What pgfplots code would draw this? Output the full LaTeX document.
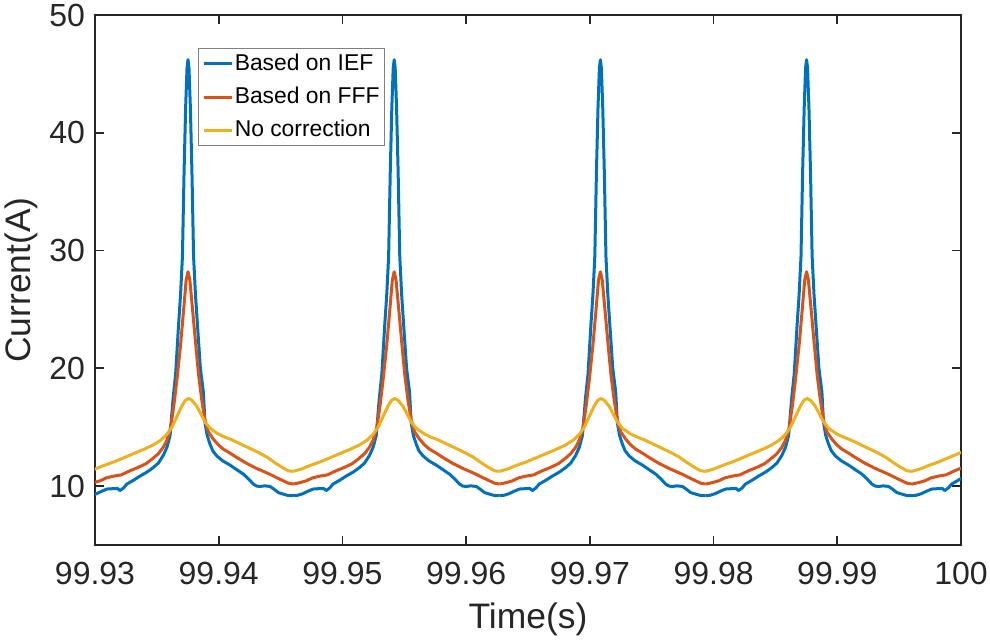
\documentclass[border=0pt]{standalone}
\usepackage{fontspec}
\setmainfont{Liberation Sans}
\usepackage{pgfplots}
\usepackage{pgfplotstable}
\pgfplotsset{compat=1.18}
\definecolor{mblue}{rgb}{0,0.447,0.741}
\definecolor{morange}{rgb}{0.85,0.325,0.098}
\definecolor{myellow}{rgb}{0.929,0.694,0.125}
\definecolor{axgray}{rgb}{0.15,0.15,0.15}

% one period of each current, p = time from the peak in ms
\pgfplotstableread{
p I
-8.16 9.18
-7.8 9.22
-7.4 9.35
-7.0 9.55
-6.55 9.75
-6.1 9.78
-5.7 9.80
-5.5 9.62
-5.2 9.85
-4.95 10.17
-4.4 10.50
-3.85 10.87
-3.3 11.20
-2.8 11.58
-2.4 11.95
-2.0 12.60
-1.7 13.30
-1.45 14.30
-1.2 17.50
-1.0 19.50
-0.77 23.60
-0.6 26.30
-0.45 29.50
-0.32 36.60
-0.19 42.20
-0.08 45.50
0 46.20
0.08 45.50
0.19 42.20
0.32 36.60
0.45 29.50
0.6 26.30
0.77 23.60
1.0 20.00
1.24 18.00
1.37 15.40
1.55 14.30
1.78 13.56
2.0 13.00
2.32 12.57
2.8 12.15
3.4 11.78
4.0 11.35
4.47 11.02
4.9 10.60
5.28 10.17
5.55 10.00
5.82 9.97
6.2 10.02
6.63 9.97
7.0 9.70
7.3 9.45
7.7 9.32
8.1 9.20
8.51 9.18
}\blueT

\pgfplotstableread{
p I
-8.16 10.17
-7.6 10.30
-7.1 10.45
-6.6 10.70
-6.0 10.85
-5.4 10.95
-4.7 11.30
-4.0 11.60
-3.4 11.90
-2.9 12.30
-2.4 12.75
-2.0 13.30
-1.7 13.90
-1.4 15.00
-1.15 16.80
-0.9 19.00
-0.6 22.00
-0.35 25.00
-0.15 27.50
0 28.20
0.15 27.50
0.35 25.20
0.6 22.30
0.85 19.50
1.1 17.40
1.37 15.60
1.65 14.60
2.05 13.98
2.45 13.50
2.85 13.14
3.4 12.80
3.94 12.43
4.7 11.95
5.55 11.50
6.1 11.25
6.63 11.00
7.2 10.70
7.7 10.45
8.1 10.25
8.51 10.17
}\orangeT

\pgfplotstableread{
p I
-8.16 11.25
-7.5 11.45
-6.8 11.75
-6.0 12.05
-5.2 12.40
-4.3 12.80
-3.5 13.15
-2.8 13.50
-2.2 13.90
-1.7 14.40
-1.3 15.00
-0.9 15.90
-0.5 16.80
-0.2 17.30
0.05 17.43
0.3 17.30
0.7 16.80
1.0 16.20
1.4 15.40
1.8 14.90
2.4 14.45
3.0 14.15
3.5 13.95
4.2 13.60
5.0 13.20
5.7 12.85
6.4 12.45
7.0 12.00
7.6 11.60
8.1 11.30
8.51 11.25
}\yellowT

\begin{document}
\begin{tikzpicture}
\begin{axis}[
  at={(0,0)}, anchor=south west,
  scale only axis,
  width=303.1pt, height=185.5pt,
  xmin=0, xmax=70, ymin=5, ymax=50,
  xtick={0,10,...,70},
  xticklabels={99.93,99.94,99.95,99.96,99.97,99.98,99.99,100},
  ytick={10,20,30,40,50},
  /pgf/number format/assume math mode=true,
  ticklabel style={font=\fontsize{11.2}{13}\selectfont, text=axgray},
  xticklabel style={yshift=-2.5pt},
  label style={font=\fontsize{12.4}{14}\selectfont, text=axgray},
  xlabel={Time(s)},
  ylabel={Current(A)},
  xlabel style={yshift=0.5pt},
  ylabel style={yshift=-3pt},
  axis line style={draw=axgray, line width=0.7pt},
  major tick style={draw=axgray, line width=0.6pt},
  major tick length=3.3pt,
  tick align=inside,
  legend style={at={(0.119,0.938)}, anchor=north west, draw=gray, line width=0.4pt,
    font=\fontsize{8}{9}\selectfont, inner sep=1.2pt, row sep=3.1pt,
    nodes={inner sep=0.6pt},
    legend cell align=left},
  legend image code/.code={\draw[#1, line width=1.05pt] (0pt,0pt) -- (9.8pt,0pt);},
  every axis plot/.append style={line width=1.05pt, line join=round},
]
\addplot[mblue] table[x expr=\thisrow{p}+7.518, y=I]{\blueT};
\addlegendentry{Based on IEF}
\pgfplotsinvokeforeach{24.185,40.851,57.518,74.185}{
  \addplot[mblue, forget plot] table[x expr=\thisrow{p}+#1, y=I]{\blueT};
}
\addplot[morange] table[x expr=\thisrow{p}+7.518, y=I]{\orangeT};
\addlegendentry{Based on FFF}
\pgfplotsinvokeforeach{24.185,40.851,57.518,74.185}{
  \addplot[morange, forget plot] table[x expr=\thisrow{p}+#1, y=I]{\orangeT};
}
\addplot[myellow] table[x expr=\thisrow{p}+7.518, y=I]{\yellowT};
\addlegendentry{No correction}
\pgfplotsinvokeforeach{24.185,40.851,57.518,74.185}{
  \addplot[myellow, forget plot] table[x expr=\thisrow{p}+#1, y=I]{\yellowT};
}
\end{axis}
\pgfresetboundingbox
\path (-33.25pt,-33.25pt) rectangle (313.25pt,190.75pt);
\end{tikzpicture}
\end{document}
